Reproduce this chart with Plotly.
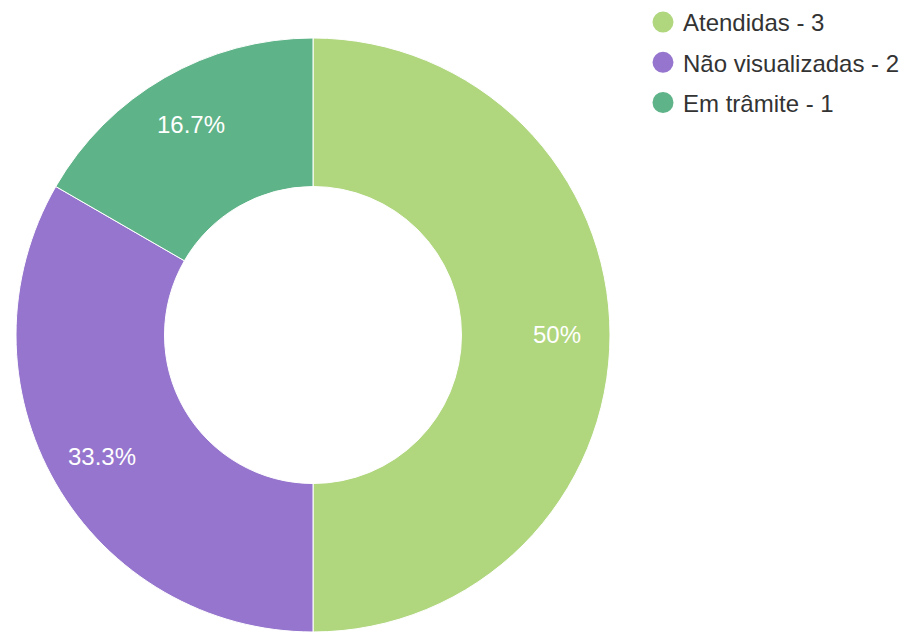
import math
import plotly.graph_objects as go

labels = ["Atendidas", "Não visualizadas", "Em trâmite"]
values = [3, 2, 1]
colors = ["#b0d67e", "#9575cd", "#5fb388"]

FONT = "Arial, Liberation Sans, sans-serif"
W, H = 909, 632
DOM_X = [16 / W, 610 / W]
DOM_Y = [0, 594 / H]

fig = go.Figure()
fig.add_trace(go.Pie(
    labels=labels, values=values, sort=False, direction="clockwise", rotation=0,
    hole=0.5, marker=dict(colors=colors, line=dict(color="white", width=1)),
    textinfo="none", showlegend=False, hoverinfo="label+value+percent",
    domain=dict(x=DOM_X, y=DOM_Y),
))
for lab, val, col in zip(labels, values, colors):
    fig.add_trace(go.Scatter(
        x=[None], y=[None], mode="markers", name=f"{lab} - {val}",
        legendgroup=lab,
        marker=dict(symbol="circle", size=16, color=col, line=dict(color=col, width=5)),
    ))

# percentage labels placed along each slice's bisector (derived from the data)
cx = (DOM_X[0] + DOM_X[1]) / 2
cy = (DOM_Y[0] + DOM_Y[1]) / 2
r_px = min((DOM_X[1] - DOM_X[0]) * W, (DOM_Y[1] - DOM_Y[0]) * H) / 2
label_r = 0.82 * r_px
total = sum(values)
cum = 0
annotations = []
for v in values:
    mid = (cum + v / 2) / total * 2 * math.pi
    cum += v
    pct = v / total * 100
    txt = f"{pct:.1f}%".replace(".0%", "%")
    annotations.append(dict(
        x=cx + label_r * math.sin(mid) / W, y=cy + label_r * math.cos(mid) / H,
        xref="paper", yref="paper", text=txt, showarrow=False,
        font=dict(color="white", size=24, family=FONT),
        xanchor="center", yanchor="middle",
    ))

fig.update_layout(
    width=W, height=H, margin=dict(l=0, r=0, t=0, b=0),
    paper_bgcolor="white", plot_bgcolor="white",
    font=dict(family=FONT, color="#333333", size=24),
    xaxis=dict(visible=False), yaxis=dict(visible=False),
    legend=dict(x=643 / W, xanchor="left", y=1, yanchor="top",
                tracegroupgap=6, font=dict(size=24, color="#333333")),
    annotations=annotations,
)
fig.write_html("out.html", config={"displayModeBar": False},
               post_script="document.body.style.margin='0';")
